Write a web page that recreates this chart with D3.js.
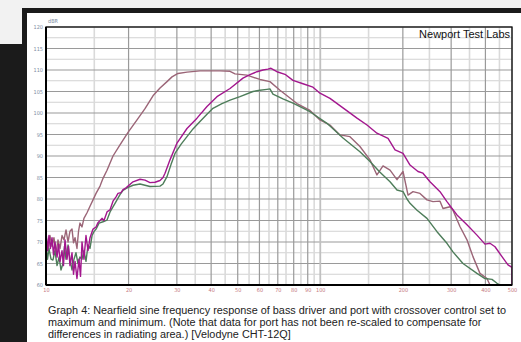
<!DOCTYPE html>
<html>
<head>
<meta charset="utf-8">
<script src="https://cdn.jsdelivr.net/npm/d3@7"></script>
<style>
  html, body { margin: 0; padding: 0; background: #f2f2f2; }
  svg { display: block; }
</style>
</head>
<body>
<div id="chart"></div>
<script>
// Frequency (Hz) / level (dB) pairs
const driverMax = [
  [10,72.5],[10.13,68],[10.25,71.5],[10.38,68.5],[10.52,71],[10.65,67],[10.78,70],[10.97,66.5],
  [11.11,69.5],[11.25,65.5],[11.44,68],[11.58,64.5],[11.73,70.5],[11.93,66],[12.08,69],[12.23,64.5],
  [12.44,67.5],[12.6,62.5],[12.76,65.5],[12.97,61.5],[13.19,66],[13.36,62],[13.53,70],[13.75,66],
  [13.99,71.5],[14.23,68],[14.47,71],[14.84,73],[15.22,73.5],[15.47,74.5],[15.74,75],[16.0,75.5],
  [16.27,75],[16.69,77],[17.12,77.5],[17.55,79.5],[18.0,80.5],[18.3,81.3],[18.77,81.5],[19.09,82.2],
  [19.58,82.6],[19.91,83],[20.76,84],[22.02,84.6],[22.96,84.4],[23.94,83.8],[24.97,83.9],[26.04,84.3],
  [26.71,85],[27.16,86],[28.32,89.1],[30.03,93],[32.66,96.4],[35.52,98.8],[38.63,101.5],[42.01,103.8],
  [46.88,105.7],[52.25,108.1],[55.42,108.9],[58.77,109.6],[61.8,110],[64.44,110.2],[66.1,110.4],
  [69.51,109.6],[74.35,109],[79.51,107.6],[86.47,106.8],[94.05,106],[99.75,104.6],[108.48,103.4],
  [121,101.2],[136.1,98.8],[148,97.2],[160.9,95.3],[176.6,94.1],[187.3,91.4],[200.3,90.6],[212.4,87.9],
  [227.1,86.4],[236.8,86],[251.2,84],[273.2,81.7],[289.6,79.4],[315,76.3],[342.6,74],[372.6,71.6],
  [398.5,69.5],[415.6,69.7],[433.5,68.9],[459.7,66.6],[483.4,64.7],[500,64.1],[500,60]
];

const driverMin = [
  [10,69],[10.13,66],[10.25,68.5],[10.43,66],[10.6,65.8],[10.78,68],[10.97,64.5],[11.16,66.5],
  [11.34,63.5],[11.53,65],[11.68,69],[11.83,66],[12.03,69.3],[12.23,66],[12.44,63.5],[12.65,66],
  [12.86,67.5],[13.08,65],[13.3,66.5],[13.53,66],[13.75,68],[13.99,65.5],[14.23,69.3],[14.47,68.5],
  [14.72,71.5],[14.96,72.4],[15.22,73],[15.61,74.4],[16.14,74.7],[16.69,75.1],[17.12,77],[17.85,79],
  [18.61,81],[19.09,82],[19.74,82.6],[20.76,83.2],[22.02,83.5],[23.94,82.9],[26.04,83],[26.71,83.5],
  [27.62,85.2],[28.56,88],[29.53,90.6],[31.05,92.7],[32.66,94.5],[34.35,96.3],[36.43,98],[38.63,99.7],
  [40.62,101.1],[43.81,102.2],[46.88,103],[50.95,103.8],[56.83,105],[60.26,105.3],[63.9,105.5],
  [65.54,105.6],[67.21,104.4],[73.11,103.3],[79.51,102.3],[91.71,100.3],[105.79,97.6],[121,94.2],
  [139.5,91],[151.8,88.7],[165.1,86.2],[179.6,84],[190.4,82.1],[200.3,81.7],[207.1,80],[212.4,79],
  [225.3,77.4],[244.9,75.5],[266.4,72.4],[289.6,69.7],[304.6,67.7],[331.3,65],[372.6,62.7],
  [398.5,61.5],[422.7,61.3],[440.9,60.4],[452.1,60],[500,60]
];

const port = [
  [10,71.6],[10.17,68],[10.34,71.5],[10.52,69],[10.69,71],[10.88,67.5],[11.06,70.5],[11.25,68.5],
  [11.44,71.5],[11.63,70.5],[11.83,72.8],[12.03,70],[12.23,72.5],[12.44,73],[12.6,69.8],[12.76,71],
  [12.97,68.5],[13.14,72.5],[13.3,74.4],[13.53,73.5],[13.75,75.5],[14.11,76.8],[14.47,78.3],
  [14.84,79.8],[15.22,81.3],[15.74,83],[16.14,84.8],[16.69,86.7],[17.55,90],[18.61,92.6],[19.91,95.5],
  [21.47,98.4],[22.96,101],[24.55,104],[26.04,105.8],[27.62,107.3],[28.8,108.4],[30.28,109.2],
  [32.66,109.5],[36.43,109.8],[43.08,109.8],[46.88,109.7],[48.88,109.1],[54.04,108.8],[60.26,107.8],
  [65.54,107.3],[71.28,105.3],[77.53,103.5],[82.22,102.2],[91.71,100.6],[99.75,98.4],[108.48,97.2],
  [117.99,94.9],[128.3,94.5],[139.5,92.2],[151.8,89.1],[160.9,85.6],[169.3,87.7],[179.6,86.7],
  [190.4,84.5],[200.3,86.4],[208.9,80.9],[217.8,81.7],[230.9,81.3],[244.9,79.8],[257.6,79.4],
  [273.2,79.5],[280.2,77.8],[297.1,78.2],[304.6,77.4],[323,73.6],[342.6,70.5],[360.3,66.6],
  [382.1,62.7],[405.3,61.5],[415.6,60]
];

const freqLabels = [10, 20, 30, 40, 50, 60, 70, 80, 90, 100, 200, 300, 400, 500];
const freqMajor = [10, 20, 30, 40, 50, 60, 70, 80, 90, 100, 200, 300, 400, 500];
const freqMinor = [15, 25, 35, 45, 55, 65, 75, 85, 95, 150, 250, 350, 450];
const dbLabels = [60, 65, 70, 75, 80, 85, 90, 95, 100, 105, 110, 115, 120];
const dbMinor = [62.5, 67.5, 72.5, 77.5, 82.5, 87.5, 92.5, 97.5, 102.5, 107.5, 112.5, 117.5];

const captionLines = [
  'Graph 4: Nearfield sine frequency response of bass driver and port with crossover control set to',
  'maximum and minimum. (Note that data for port has not been re-scaled to compensate for',
  'differences in radiating area.) [Velodyne CHT-12Q]'
];

const W = 521, H = 342;
const plot = { left: 46, right: 512, top: 27, bottom: 285 };

const svg = d3.select('#chart').append('svg')
  .attr('width', W).attr('height', H);

// page background: grey corner, dark frame, white panel
svg.append('rect').attr('width', W).attr('height', H).attr('fill', '#f2f2f2');
svg.append('rect').attr('x', 22).attr('y', 8).attr('width', W - 22).attr('height', H - 8).attr('fill', '#1b1b1b');
svg.append('rect').attr('x', 0).attr('y', 44).attr('width', 30).attr('height', H - 44).attr('fill', '#1b1b1b');
svg.append('rect').attr('x', 27).attr('y', 13).attr('width', W - 27).attr('height', H - 13).attr('fill', '#ffffff');

const x = d3.scaleLog().domain([10, 500]).range([plot.left, plot.right]);
const y = d3.scaleLinear().domain([60, 120]).range([plot.bottom, plot.top]);

const grid = svg.append('g');

grid.selectAll('.hminor').data(dbMinor).join('line')
  .attr('x1', plot.left).attr('x2', plot.right)
  .attr('y1', d => y(d)).attr('y2', d => y(d))
  .attr('stroke', '#d2d2d2').attr('stroke-width', 1.2);

grid.selectAll('.vminor').data(freqMinor).join('line')
  .attr('x1', d => x(d)).attr('x2', d => x(d))
  .attr('y1', plot.top).attr('y2', plot.bottom)
  .attr('stroke', '#dadada').attr('stroke-width', 1.6);

grid.selectAll('.hmajor').data(dbLabels).join('line')
  .attr('x1', plot.left).attr('x2', plot.right)
  .attr('y1', d => y(d)).attr('y2', d => y(d))
  .attr('stroke', '#9a9a9a').attr('stroke-width', 1.2);

grid.selectAll('.vmajor').data(freqMajor).join('line')
  .attr('x1', d => x(d)).attr('x2', d => x(d))
  .attr('y1', plot.top).attr('y2', plot.bottom)
  .attr('stroke', d => d === 100 ? '#c0c0c0' : '#9a9a9a')
  .attr('stroke-width', d => d === 100 ? 1.8 : 1.2);

// curves
svg.append('clipPath').attr('id', 'plotClip').append('rect')
  .attr('x', plot.left).attr('y', plot.top)
  .attr('width', plot.right - plot.left).attr('height', plot.bottom - plot.top);

const line = d3.line()
  .x(d => x(d[0]))
  .y(d => y(Math.max(60, d[1])));

const curves = svg.append('g').attr('clip-path', 'url(#plotClip)');
[
  { data: port, color: '#9b6577' },
  { data: driverMin, color: '#4e7d5a' },
  { data: driverMax, color: '#a3178e' }
].forEach(s => {
  curves.append('path')
    .datum(s.data)
    .attr('fill', 'none')
    .attr('stroke', s.color)
    .attr('stroke-width', 1.4)
    .attr('stroke-linejoin', 'round')
    .attr('d', line);
});

// frame
svg.append('rect')
  .attr('x', plot.left).attr('y', plot.top)
  .attr('width', plot.right - plot.left).attr('height', plot.bottom - plot.top)
  .attr('fill', 'none').attr('stroke', '#111').attr('stroke-width', 1.3);
svg.append('line')
  .attr('x1', plot.left).attr('x2', plot.left).attr('y1', plot.top).attr('y2', plot.bottom)
  .attr('stroke', '#000').attr('stroke-width', 2);
svg.append('line')
  .attr('x1', plot.left).attr('x2', plot.right).attr('y1', plot.bottom).attr('y2', plot.bottom)
  .attr('stroke', '#000').attr('stroke-width', 2);

// axes (labels only)
const tickFont = '"Liberation Sans Narrow", "DejaVu Sans Condensed", "Liberation Sans", sans-serif';

const yAxisGroup = svg.append('g')
  .attr('transform', `translate(${plot.left},0)`)
  .call(d3.axisLeft(y).tickValues(dbLabels).tickSize(0).tickPadding(3).tickFormat(d3.format('d')));
yAxisGroup.select('.domain').remove();
yAxisGroup.selectAll('text')
  .attr('fill', '#7d8ca3')
  .style('font-family', tickFont)
  .style('font-size', '5.5px');

const xAxisGroup = svg.append('g')
  .attr('transform', `translate(0,${plot.bottom})`)
  .call(d3.axisBottom(x).tickValues(freqLabels).tickSize(0).tickPadding(3).tickFormat(d3.format('d')));
xAxisGroup.select('.domain').remove();
xAxisGroup.selectAll('text')
  .attr('fill', '#c47880')
  .style('font-family', tickFont)
  .style('font-size', '5.5px');

svg.append('text')
  .attr('x', plot.left + 2).attr('y', 23)
  .attr('fill', '#7d8ca3')
  .style('font-family', tickFont)
  .style('font-size', '5.5px')
  .text('dBR');

svg.append('text')
  .attr('x', plot.right - 2).attr('y', 38)
  .attr('text-anchor', 'end')
  .attr('fill', '#111')
  .style('font-family', '"Liberation Sans", Arial, sans-serif')
  .style('font-size', '11px')
  .text('Newport Test Labs');

// caption
svg.append('g').selectAll('text').data(captionLines).join('text')
  .attr('x', 48)
  .attr('y', (d, i) => 314 + i * 12)
  .attr('fill', '#222')
  .style('font-family', '"Liberation Sans", Arial, sans-serif')
  .style('font-size', '10.85px')
  .text(d => d);
</script>
</body>
</html>
